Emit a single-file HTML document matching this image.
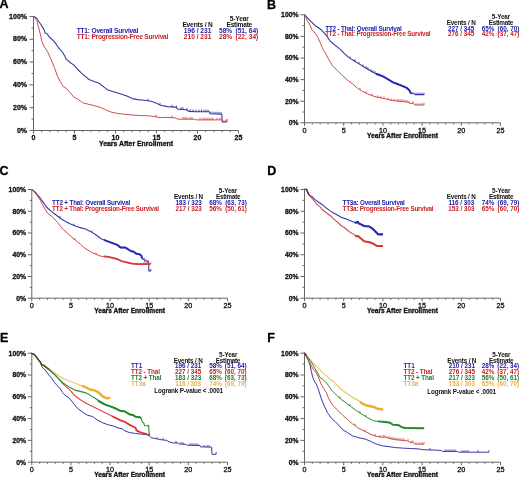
<!DOCTYPE html>
<html><head><meta charset="utf-8"><style>
html,body{margin:0;padding:0;background:#fff;}
svg{display:block;filter:blur(0.3px);font-family:"Liberation Sans",sans-serif;}
</style></head><body>
<svg width="520" height="477" viewBox="0 0 520 477">
<rect width="520" height="477" fill="#fff"/>
<path d="M33.50 16.00V130.50H238.50" stroke="#666" stroke-width="1" fill="none"/>
<path d="M29.50 130.50H33.50M31.50 119.10H33.50M29.50 107.70H33.50M31.50 96.30H33.50M29.50 84.90H33.50M31.50 73.50H33.50M29.50 62.10H33.50M31.50 50.70H33.50M29.50 39.30H33.50M31.50 27.90H33.50M29.50 16.50H33.50M33.50 130.50V133.50M41.70 130.50V132.10M49.90 130.50V132.10M58.10 130.50V132.10M66.30 130.50V132.10M74.50 130.50V133.50M82.70 130.50V132.10M90.90 130.50V132.10M99.10 130.50V132.10M107.30 130.50V132.10M115.50 130.50V133.50M123.70 130.50V132.10M131.90 130.50V132.10M140.10 130.50V132.10M148.30 130.50V132.10M156.50 130.50V133.50M164.70 130.50V132.10M172.90 130.50V132.10M181.10 130.50V132.10M189.30 130.50V132.10M197.50 130.50V133.50M205.70 130.50V132.10M213.90 130.50V132.10M222.10 130.50V132.10M230.30 130.50V132.10M238.50 130.50V133.50" stroke="#666" stroke-width="1" fill="none"/>
<text x="27.00" y="132.60" font-size="7.0" fill="#111" text-anchor="end" font-weight="bold" stroke="#111" stroke-width="0.3">0%</text>
<text x="27.00" y="109.80" font-size="7.0" fill="#111" text-anchor="end" font-weight="bold" stroke="#111" stroke-width="0.3">20%</text>
<text x="27.00" y="87.00" font-size="7.0" fill="#111" text-anchor="end" font-weight="bold" stroke="#111" stroke-width="0.3">40%</text>
<text x="27.00" y="64.20" font-size="7.0" fill="#111" text-anchor="end" font-weight="bold" stroke="#111" stroke-width="0.3">60%</text>
<text x="27.00" y="41.40" font-size="7.0" fill="#111" text-anchor="end" font-weight="bold" stroke="#111" stroke-width="0.3">80%</text>
<text x="27.00" y="18.60" font-size="7.0" fill="#111" text-anchor="end" font-weight="bold" stroke="#111" stroke-width="0.3">100%</text>
<text x="33.50" y="139.70" font-size="7.0" fill="#111" text-anchor="middle" font-weight="bold" stroke="#111" stroke-width="0.3">0</text>
<text x="74.50" y="139.70" font-size="7.0" fill="#111" text-anchor="middle" font-weight="bold" stroke="#111" stroke-width="0.3">5</text>
<text x="115.50" y="139.70" font-size="7.0" fill="#111" text-anchor="middle" font-weight="bold" stroke="#111" stroke-width="0.3">10</text>
<text x="156.50" y="139.70" font-size="7.0" fill="#111" text-anchor="middle" font-weight="bold" stroke="#111" stroke-width="0.3">15</text>
<text x="197.50" y="139.70" font-size="7.0" fill="#111" text-anchor="middle" font-weight="bold" stroke="#111" stroke-width="0.3">20</text>
<text x="238.50" y="139.70" font-size="7.0" fill="#111" text-anchor="middle" font-weight="bold" stroke="#111" stroke-width="0.3">25</text>
<text x="136.00" y="145.60" font-size="6.9" fill="#111" text-anchor="middle" font-weight="bold" stroke="#111" stroke-width="0.3">Years After Enrollment</text>
<text x="-0.40" y="8.10" font-size="12.5" fill="#000" text-anchor="start" font-weight="bold" stroke="#000" stroke-width="0.3">A</text>
<path d="M304.50 14.30V122.80H500.50" stroke="#666" stroke-width="1" fill="none"/>
<path d="M300.50 122.80H304.50M302.50 112.00H304.50M300.50 101.20H304.50M302.50 90.40H304.50M300.50 79.60H304.50M302.50 68.80H304.50M300.50 58.00H304.50M302.50 47.20H304.50M300.50 36.40H304.50M302.50 25.60H304.50M300.50 14.80H304.50M304.50 122.80V125.80M312.34 122.80V124.40M320.18 122.80V124.40M328.02 122.80V124.40M335.86 122.80V124.40M343.70 122.80V125.80M351.54 122.80V124.40M359.38 122.80V124.40M367.22 122.80V124.40M375.06 122.80V124.40M382.90 122.80V125.80M390.74 122.80V124.40M398.58 122.80V124.40M406.42 122.80V124.40M414.26 122.80V124.40M422.10 122.80V125.80M429.94 122.80V124.40M437.78 122.80V124.40M445.62 122.80V124.40M453.46 122.80V124.40M461.30 122.80V125.80M469.14 122.80V124.40M476.98 122.80V124.40M484.82 122.80V124.40M492.66 122.80V124.40M500.50 122.80V125.80" stroke="#666" stroke-width="1" fill="none"/>
<text x="298.50" y="125.10" font-size="6.8" fill="#111" text-anchor="end" font-weight="bold" stroke="#111" stroke-width="0.3">0%</text>
<text x="298.50" y="103.50" font-size="6.8" fill="#111" text-anchor="end" font-weight="bold" stroke="#111" stroke-width="0.3">20%</text>
<text x="298.50" y="81.90" font-size="6.8" fill="#111" text-anchor="end" font-weight="bold" stroke="#111" stroke-width="0.3">40%</text>
<text x="298.50" y="60.30" font-size="6.8" fill="#111" text-anchor="end" font-weight="bold" stroke="#111" stroke-width="0.3">60%</text>
<text x="298.50" y="38.70" font-size="6.8" fill="#111" text-anchor="end" font-weight="bold" stroke="#111" stroke-width="0.3">80%</text>
<text x="298.50" y="17.10" font-size="6.8" fill="#111" text-anchor="end" font-weight="bold" stroke="#111" stroke-width="0.3">100%</text>
<text x="304.50" y="132.80" font-size="7.2" fill="#111" text-anchor="middle" font-weight="normal" stroke="#111" stroke-width="0.3">0</text>
<text x="343.70" y="132.80" font-size="7.2" fill="#111" text-anchor="middle" font-weight="normal" stroke="#111" stroke-width="0.3">5</text>
<text x="382.90" y="132.80" font-size="7.2" fill="#111" text-anchor="middle" font-weight="normal" stroke="#111" stroke-width="0.3">10</text>
<text x="422.10" y="132.80" font-size="7.2" fill="#111" text-anchor="middle" font-weight="normal" stroke="#111" stroke-width="0.3">15</text>
<text x="461.30" y="132.80" font-size="7.2" fill="#111" text-anchor="middle" font-weight="normal" stroke="#111" stroke-width="0.3">20</text>
<text x="500.50" y="132.80" font-size="7.2" fill="#111" text-anchor="middle" font-weight="normal" stroke="#111" stroke-width="0.3">25</text>
<text x="402.50" y="138.00" font-size="6.6" fill="#111" text-anchor="middle" font-weight="bold" stroke="#111" stroke-width="0.3">Years After Enrollment</text>
<text x="266.90" y="8.60" font-size="12.5" fill="#000" text-anchor="start" font-weight="bold" stroke="#000" stroke-width="0.3">B</text>
<path d="M31.80 189.00V298.20H227.50" stroke="#666" stroke-width="1" fill="none"/>
<path d="M27.80 298.20H31.80M29.80 287.33H31.80M27.80 276.46H31.80M29.80 265.59H31.80M27.80 254.72H31.80M29.80 243.85H31.80M27.80 232.98H31.80M29.80 222.11H31.80M27.80 211.24H31.80M29.80 200.37H31.80M27.80 189.50H31.80M31.80 298.20V301.20M39.63 298.20V299.80M47.46 298.20V299.80M55.28 298.20V299.80M63.11 298.20V299.80M70.94 298.20V301.20M78.77 298.20V299.80M86.60 298.20V299.80M94.42 298.20V299.80M102.25 298.20V299.80M110.08 298.20V301.20M117.91 298.20V299.80M125.74 298.20V299.80M133.56 298.20V299.80M141.39 298.20V299.80M149.22 298.20V301.20M157.05 298.20V299.80M164.88 298.20V299.80M172.70 298.20V299.80M180.53 298.20V299.80M188.36 298.20V301.20M196.19 298.20V299.80M204.02 298.20V299.80M211.84 298.20V299.80M219.67 298.20V299.80M227.50 298.20V301.20" stroke="#666" stroke-width="1" fill="none"/>
<text x="26.00" y="300.50" font-size="6.8" fill="#111" text-anchor="end" font-weight="bold" stroke="#111" stroke-width="0.3">0%</text>
<text x="26.00" y="278.76" font-size="6.8" fill="#111" text-anchor="end" font-weight="bold" stroke="#111" stroke-width="0.3">20%</text>
<text x="26.00" y="257.02" font-size="6.8" fill="#111" text-anchor="end" font-weight="bold" stroke="#111" stroke-width="0.3">40%</text>
<text x="26.00" y="235.28" font-size="6.8" fill="#111" text-anchor="end" font-weight="bold" stroke="#111" stroke-width="0.3">60%</text>
<text x="26.00" y="213.54" font-size="6.8" fill="#111" text-anchor="end" font-weight="bold" stroke="#111" stroke-width="0.3">80%</text>
<text x="26.00" y="191.80" font-size="6.8" fill="#111" text-anchor="end" font-weight="bold" stroke="#111" stroke-width="0.3">100%</text>
<text x="31.80" y="308.00" font-size="7.2" fill="#111" text-anchor="middle" font-weight="normal" stroke="#111" stroke-width="0.3">0</text>
<text x="70.94" y="308.00" font-size="7.2" fill="#111" text-anchor="middle" font-weight="normal" stroke="#111" stroke-width="0.3">5</text>
<text x="110.08" y="308.00" font-size="7.2" fill="#111" text-anchor="middle" font-weight="normal" stroke="#111" stroke-width="0.3">10</text>
<text x="149.22" y="308.00" font-size="7.2" fill="#111" text-anchor="middle" font-weight="normal" stroke="#111" stroke-width="0.3">15</text>
<text x="188.36" y="308.00" font-size="7.2" fill="#111" text-anchor="middle" font-weight="normal" stroke="#111" stroke-width="0.3">20</text>
<text x="227.50" y="308.00" font-size="7.2" fill="#111" text-anchor="middle" font-weight="normal" stroke="#111" stroke-width="0.3">25</text>
<text x="129.65" y="312.60" font-size="6.6" fill="#111" text-anchor="middle" font-weight="bold" stroke="#111" stroke-width="0.3">Years After Enrollment</text>
<text x="-0.60" y="175.10" font-size="12.5" fill="#000" text-anchor="start" font-weight="bold" stroke="#000" stroke-width="0.3">C</text>
<path d="M304.50 189.00V298.20H500.50" stroke="#666" stroke-width="1" fill="none"/>
<path d="M300.50 298.20H304.50M302.50 287.33H304.50M300.50 276.46H304.50M302.50 265.59H304.50M300.50 254.72H304.50M302.50 243.85H304.50M300.50 232.98H304.50M302.50 222.11H304.50M300.50 211.24H304.50M302.50 200.37H304.50M300.50 189.50H304.50M304.50 298.20V301.20M312.34 298.20V299.80M320.18 298.20V299.80M328.02 298.20V299.80M335.86 298.20V299.80M343.70 298.20V301.20M351.54 298.20V299.80M359.38 298.20V299.80M367.22 298.20V299.80M375.06 298.20V299.80M382.90 298.20V301.20M390.74 298.20V299.80M398.58 298.20V299.80M406.42 298.20V299.80M414.26 298.20V299.80M422.10 298.20V301.20M429.94 298.20V299.80M437.78 298.20V299.80M445.62 298.20V299.80M453.46 298.20V299.80M461.30 298.20V301.20M469.14 298.20V299.80M476.98 298.20V299.80M484.82 298.20V299.80M492.66 298.20V299.80M500.50 298.20V301.20" stroke="#666" stroke-width="1" fill="none"/>
<text x="298.50" y="300.50" font-size="6.8" fill="#111" text-anchor="end" font-weight="bold" stroke="#111" stroke-width="0.3">0%</text>
<text x="298.50" y="278.76" font-size="6.8" fill="#111" text-anchor="end" font-weight="bold" stroke="#111" stroke-width="0.3">20%</text>
<text x="298.50" y="257.02" font-size="6.8" fill="#111" text-anchor="end" font-weight="bold" stroke="#111" stroke-width="0.3">40%</text>
<text x="298.50" y="235.28" font-size="6.8" fill="#111" text-anchor="end" font-weight="bold" stroke="#111" stroke-width="0.3">60%</text>
<text x="298.50" y="213.54" font-size="6.8" fill="#111" text-anchor="end" font-weight="bold" stroke="#111" stroke-width="0.3">80%</text>
<text x="298.50" y="191.80" font-size="6.8" fill="#111" text-anchor="end" font-weight="bold" stroke="#111" stroke-width="0.3">100%</text>
<text x="304.50" y="308.00" font-size="7.2" fill="#111" text-anchor="middle" font-weight="normal" stroke="#111" stroke-width="0.3">0</text>
<text x="343.70" y="308.00" font-size="7.2" fill="#111" text-anchor="middle" font-weight="normal" stroke="#111" stroke-width="0.3">5</text>
<text x="382.90" y="308.00" font-size="7.2" fill="#111" text-anchor="middle" font-weight="normal" stroke="#111" stroke-width="0.3">10</text>
<text x="422.10" y="308.00" font-size="7.2" fill="#111" text-anchor="middle" font-weight="normal" stroke="#111" stroke-width="0.3">15</text>
<text x="461.30" y="308.00" font-size="7.2" fill="#111" text-anchor="middle" font-weight="normal" stroke="#111" stroke-width="0.3">20</text>
<text x="500.50" y="308.00" font-size="7.2" fill="#111" text-anchor="middle" font-weight="normal" stroke="#111" stroke-width="0.3">25</text>
<text x="402.50" y="312.60" font-size="6.6" fill="#111" text-anchor="middle" font-weight="bold" stroke="#111" stroke-width="0.3">Years After Enrollment</text>
<text x="267.20" y="175.00" font-size="12.5" fill="#000" text-anchor="start" font-weight="bold" stroke="#000" stroke-width="0.3">D</text>
<path d="M31.80 352.70V462.20H227.50" stroke="#666" stroke-width="1" fill="none"/>
<path d="M27.80 462.20H31.80M29.80 451.30H31.80M27.80 440.40H31.80M29.80 429.50H31.80M27.80 418.60H31.80M29.80 407.70H31.80M27.80 396.80H31.80M29.80 385.90H31.80M27.80 375.00H31.80M29.80 364.10H31.80M27.80 353.20H31.80M31.80 462.20V465.20M39.63 462.20V463.80M47.46 462.20V463.80M55.28 462.20V463.80M63.11 462.20V463.80M70.94 462.20V465.20M78.77 462.20V463.80M86.60 462.20V463.80M94.42 462.20V463.80M102.25 462.20V463.80M110.08 462.20V465.20M117.91 462.20V463.80M125.74 462.20V463.80M133.56 462.20V463.80M141.39 462.20V463.80M149.22 462.20V465.20M157.05 462.20V463.80M164.88 462.20V463.80M172.70 462.20V463.80M180.53 462.20V463.80M188.36 462.20V465.20M196.19 462.20V463.80M204.02 462.20V463.80M211.84 462.20V463.80M219.67 462.20V463.80M227.50 462.20V465.20" stroke="#666" stroke-width="1" fill="none"/>
<text x="26.00" y="464.50" font-size="6.8" fill="#111" text-anchor="end" font-weight="bold" stroke="#111" stroke-width="0.3">0%</text>
<text x="26.00" y="442.70" font-size="6.8" fill="#111" text-anchor="end" font-weight="bold" stroke="#111" stroke-width="0.3">20%</text>
<text x="26.00" y="420.90" font-size="6.8" fill="#111" text-anchor="end" font-weight="bold" stroke="#111" stroke-width="0.3">40%</text>
<text x="26.00" y="399.10" font-size="6.8" fill="#111" text-anchor="end" font-weight="bold" stroke="#111" stroke-width="0.3">60%</text>
<text x="26.00" y="377.30" font-size="6.8" fill="#111" text-anchor="end" font-weight="bold" stroke="#111" stroke-width="0.3">80%</text>
<text x="26.00" y="355.50" font-size="6.8" fill="#111" text-anchor="end" font-weight="bold" stroke="#111" stroke-width="0.3">100%</text>
<text x="31.80" y="472.00" font-size="7.2" fill="#111" text-anchor="middle" font-weight="normal" stroke="#111" stroke-width="0.3">0</text>
<text x="70.94" y="472.00" font-size="7.2" fill="#111" text-anchor="middle" font-weight="normal" stroke="#111" stroke-width="0.3">5</text>
<text x="110.08" y="472.00" font-size="7.2" fill="#111" text-anchor="middle" font-weight="normal" stroke="#111" stroke-width="0.3">10</text>
<text x="149.22" y="472.00" font-size="7.2" fill="#111" text-anchor="middle" font-weight="normal" stroke="#111" stroke-width="0.3">15</text>
<text x="188.36" y="472.00" font-size="7.2" fill="#111" text-anchor="middle" font-weight="normal" stroke="#111" stroke-width="0.3">20</text>
<text x="227.50" y="472.00" font-size="7.2" fill="#111" text-anchor="middle" font-weight="normal" stroke="#111" stroke-width="0.3">25</text>
<text x="129.65" y="476.60" font-size="6.6" fill="#111" text-anchor="middle" font-weight="bold" stroke="#111" stroke-width="0.3">Years After Enrollment</text>
<text x="0.00" y="341.80" font-size="12.5" fill="#000" text-anchor="start" font-weight="bold" stroke="#000" stroke-width="0.3">E</text>
<path d="M304.50 352.70V462.20H500.50" stroke="#666" stroke-width="1" fill="none"/>
<path d="M300.50 462.20H304.50M302.50 451.30H304.50M300.50 440.40H304.50M302.50 429.50H304.50M300.50 418.60H304.50M302.50 407.70H304.50M300.50 396.80H304.50M302.50 385.90H304.50M300.50 375.00H304.50M302.50 364.10H304.50M300.50 353.20H304.50M304.50 462.20V465.20M312.34 462.20V463.80M320.18 462.20V463.80M328.02 462.20V463.80M335.86 462.20V463.80M343.70 462.20V465.20M351.54 462.20V463.80M359.38 462.20V463.80M367.22 462.20V463.80M375.06 462.20V463.80M382.90 462.20V465.20M390.74 462.20V463.80M398.58 462.20V463.80M406.42 462.20V463.80M414.26 462.20V463.80M422.10 462.20V465.20M429.94 462.20V463.80M437.78 462.20V463.80M445.62 462.20V463.80M453.46 462.20V463.80M461.30 462.20V465.20M469.14 462.20V463.80M476.98 462.20V463.80M484.82 462.20V463.80M492.66 462.20V463.80M500.50 462.20V465.20" stroke="#666" stroke-width="1" fill="none"/>
<text x="298.50" y="464.50" font-size="6.8" fill="#111" text-anchor="end" font-weight="bold" stroke="#111" stroke-width="0.3">0%</text>
<text x="298.50" y="442.70" font-size="6.8" fill="#111" text-anchor="end" font-weight="bold" stroke="#111" stroke-width="0.3">20%</text>
<text x="298.50" y="420.90" font-size="6.8" fill="#111" text-anchor="end" font-weight="bold" stroke="#111" stroke-width="0.3">40%</text>
<text x="298.50" y="399.10" font-size="6.8" fill="#111" text-anchor="end" font-weight="bold" stroke="#111" stroke-width="0.3">60%</text>
<text x="298.50" y="377.30" font-size="6.8" fill="#111" text-anchor="end" font-weight="bold" stroke="#111" stroke-width="0.3">80%</text>
<text x="298.50" y="355.50" font-size="6.8" fill="#111" text-anchor="end" font-weight="bold" stroke="#111" stroke-width="0.3">100%</text>
<text x="304.50" y="472.00" font-size="7.2" fill="#111" text-anchor="middle" font-weight="normal" stroke="#111" stroke-width="0.3">0</text>
<text x="343.70" y="472.00" font-size="7.2" fill="#111" text-anchor="middle" font-weight="normal" stroke="#111" stroke-width="0.3">5</text>
<text x="382.90" y="472.00" font-size="7.2" fill="#111" text-anchor="middle" font-weight="normal" stroke="#111" stroke-width="0.3">10</text>
<text x="422.10" y="472.00" font-size="7.2" fill="#111" text-anchor="middle" font-weight="normal" stroke="#111" stroke-width="0.3">15</text>
<text x="461.30" y="472.00" font-size="7.2" fill="#111" text-anchor="middle" font-weight="normal" stroke="#111" stroke-width="0.3">20</text>
<text x="500.50" y="472.00" font-size="7.2" fill="#111" text-anchor="middle" font-weight="normal" stroke="#111" stroke-width="0.3">25</text>
<text x="402.50" y="476.60" font-size="6.6" fill="#111" text-anchor="middle" font-weight="bold" stroke="#111" stroke-width="0.3">Years After Enrollment</text>
<text x="267.20" y="341.80" font-size="12.5" fill="#000" text-anchor="start" font-weight="bold" stroke="#000" stroke-width="0.3">F</text>
<path d="M33.8 16.4 L36.7 18.2 L39.1 22.0 L41.4 25.3 L43.8 29.1 L45.2 32.9 L47.1 33.8 L49.0 36.6 L50.9 38.5 L53.7 40.9 L56.5 44.7 L59.4 48.9 L62.2 51.7 L64.5 55.5 L66.4 59.4 L70.2 62.5 L73.9 65.1 L77.7 69.5 L81.5 73.2 L85.3 76.4 L89.0 79.5 L94.1 81.4 L99.1 83.3 L104.0 87.1 L108.1 90.1 L113.5 91.8 L120.2 93.8 L126.9 95.9 L132.3 98.6 L137.7 99.6 L144.4 100.3 L151.1 101.2 L156.5 103.3 L160.6 105.3 L167.3 106.6 L175.8 107.1 L177.8 109.1 L186.5 109.8 L188.6 111.4 L196.0 111.8 L209.4 111.8 L210.1 113.8 L221.8 114.2 L222.2 121.9 L226.2 121.9" stroke="#3838a2" stroke-width="1.1" fill="none" stroke-linejoin="round"/>
<path d="M33.8 16.4 L36.7 20.6 L38.6 27.2 L40.5 34.8 L41.9 41.4 L43.8 46.1 L46.2 49.4 L48.0 52.7 L49.5 56.0 L51.3 60.0 L54.4 67.6 L57.6 76.4 L60.1 81.4 L63.2 86.4 L67.0 89.0 L70.2 92.7 L73.9 97.1 L77.7 99.0 L82.7 102.8 L87.8 104.1 L92.8 105.3 L97.8 106.6 L100.0 107.3 L105.4 109.7 L110.8 112.0 L117.5 113.4 L124.2 114.3 L132.3 115.0 L140.4 115.6 L148.5 115.8 L153.8 116.5 L160.6 117.6 L165.0 117.4 L175.8 117.9 L177.8 119.2 L194.6 119.2 L196.0 119.9 L221.5 119.9 L222.9 121.2 L226.9 121.2" stroke="#d44a4a" stroke-width="1.0" fill="none" stroke-linejoin="round"/>
<path d="M148.0 100.8v-2.2M160.0 105.0v-2.2M172.0 106.9v-2.2M176.5 107.8v-2.2M181.0 109.4v-2.2M183.0 109.5v-2.2M187.0 110.2v-2.2M190.0 111.5v-2.2M193.0 111.6v-2.2M196.0 111.8v-2.2M199.0 111.8v-2.2M201.5 111.8v-2.2M204.0 111.8v-2.2M206.0 111.8v-2.2M208.0 111.8v-2.2M211.0 113.8v-2.2M213.0 113.9v-2.2M215.0 114.0v-2.2M217.0 114.0v-2.2M219.0 114.1v-2.2M221.0 114.2v-2.2" stroke="#2828b4" stroke-width="0.8" fill="none"/>
<path d="M156.0 116.9v-2.2M172.0 117.7v-2.2M183.0 119.2v-2.2M185.0 119.2v-2.2M187.0 119.2v-2.2M190.0 119.2v-2.2M192.0 119.2v-2.2M200.0 119.9v-2.2M203.0 119.9v-2.2M205.0 119.9v-2.2M207.0 119.9v-2.2M209.0 119.9v-2.2M211.0 119.9v-2.2M213.0 119.9v-2.2M217.0 119.9v-2.2M220.0 119.9v-2.2M226.9 121.2v-2.2" stroke="#d83838" stroke-width="0.8" fill="none"/>
<path d="M226.9 119.3v3.4" stroke="#d83838" stroke-width="0.9"/>
<path d="M304.8 14.8 L307.7 18.1 L311.4 21.9 L315.2 25.7 L319.0 28.0 L322.8 31.3 L326.5 35.6 L330.3 41.2 L334.1 44.5 L337.8 47.4 L341.6 50.7 L343.9 53.2 L348.9 57.6 L354.0 60.7 L359.0 63.9 L364.0 67.0 L369.0 69.9 L373.8 72.8 L378.7 74.7 L383.5 76.6 L388.3 79.5 L393.1 82.4 L396.2 83.5 L401.5 85.6 L406.7 87.8 L409.4 90.4 L411.0 93.6 L413.1 93.0 L415.2 94.6 L424.2 94.6" stroke="#3838a2" stroke-width="1.1" fill="none" stroke-linejoin="round"/>
<path d="M304.8 15.2 L307.7 21.4 L310.0 25.2 L311.9 29.5 L315.2 33.2 L318.0 37.5 L320.4 43.1 L322.3 47.8 L325.0 52.5 L328.8 59.5 L332.6 65.8 L337.6 70.8 L342.6 75.8 L347.7 80.2 L352.7 84.0 L357.7 88.4 L362.8 91.5 L367.8 94.1 L372.8 95.9 L375.0 96.7 L380.3 97.8 L385.6 98.9 L390.9 100.4 L396.2 101.0 L402.5 101.5 L406.7 102.0 L411.0 103.6 L413.1 103.1 L414.7 105.0 L424.2 105.0" stroke="#d44a4a" stroke-width="1.0" fill="none" stroke-linejoin="round"/>
<path d="M376.0 73.7 L378.7 74.7 L383.5 76.6 L388.3 79.5 L393.1 82.4 L396.2 83.5 L401.5 85.6 L406.7 87.8 L409.4 90.4 L411.0 93.6 L411.0 93.6" stroke="#2828b4" stroke-width="2.0" fill="none" stroke-linejoin="round"/>
<path d="M350.0 58.3v-2.0M355.0 61.3v-2.0M359.0 63.9v-2.0M363.0 66.4v-2.0M366.0 68.2v-2.0M368.0 69.3v-2.0M371.0 71.1v-2.0M373.0 72.3v-2.0M375.0 73.3v-2.0M416.0 94.6v-2.0M418.0 94.6v-2.0M420.0 94.6v-2.0M422.0 94.6v-2.0M424.0 94.6v-2.0" stroke="#2828b4" stroke-width="0.8" fill="none"/>
<path d="M360.0 89.8v-2.0M366.0 93.2v-2.0M372.0 95.6v-2.0M378.0 97.3v-2.0M381.0 97.9v-2.0M384.0 98.6v-2.0M388.0 99.6v-2.0M391.0 100.4v-2.0M394.0 100.8v-2.0M397.0 101.1v-2.0M399.0 101.2v-2.0M401.0 101.4v-2.0M403.0 101.6v-2.0M405.0 101.8v-2.0M407.0 102.1v-2.0M409.0 102.9v-2.0M413.0 103.1v-2.0M416.0 105.0v-2.0M419.0 105.0v-2.0M422.0 105.0v-2.0M424.0 105.0v-2.0" stroke="#d83838" stroke-width="0.8" fill="none"/>
<path d="M31.9 189.4 L35.0 191.9 L38.8 196.3 L42.6 201.4 L46.4 207.0 L51.4 211.4 L56.4 215.2 L61.4 219.0 L66.5 222.1 L71.5 224.6 L76.5 226.5 L82.8 228.4 L85.0 228.7 L90.4 231.4 L95.8 234.8 L101.2 238.8 L106.5 240.9 L111.9 242.9 L117.3 244.9 L120.7 247.6 L125.4 247.6 L130.8 251.0 L133.7 251.8 L135.9 253.6 L139.6 254.3 L141.4 255.8 L142.1 258.8 L144.0 259.5 L144.7 261.0 L147.6 261.3 L148.8 262.8 L148.8 270.9 L151.0 270.9" stroke="#3838a2" stroke-width="1.1" fill="none" stroke-linejoin="round"/>
<path d="M31.9 189.4 L36.3 194.4 L40.1 200.1 L43.8 207.0 L47.6 213.3 L52.6 217.1 L57.7 222.7 L62.7 229.0 L67.7 233.4 L74.0 239.1 L80.3 244.1 L85.0 248.3 L90.4 251.6 L95.8 254.3 L101.2 256.3 L106.5 256.6 L111.9 257.7 L117.3 259.0 L121.3 261.0 L126.7 262.4 L132.1 263.7 L138.8 264.1 L150.9 264.1" stroke="#d44a4a" stroke-width="1.0" fill="none" stroke-linejoin="round"/>
<path d="M104.0 239.9 L106.5 240.9 L111.9 242.9 L117.3 244.9 L120.7 247.6 L125.4 247.6 L130.8 251.0 L133.7 251.8 L135.9 253.6 L139.6 254.3 L141.4 255.8 L142.0 258.4" stroke="#2828b4" stroke-width="2.0" fill="none" stroke-linejoin="round"/>
<path d="M104.0 256.5 L106.5 256.6 L111.9 257.7 L117.3 259.0 L121.3 261.0 L126.7 262.4 L132.1 263.7 L138.8 264.1 L150.0 264.1" stroke="#d83838" stroke-width="1.8" fill="none" stroke-linejoin="round"/>
<path d="M60.0 217.9v-2.0M74.0 225.6v-2.0M92.0 232.4v-2.0M144.0 259.5v-2.0M146.0 261.1v-2.0M148.3 262.2v-2.0M150.9 270.9v-2.0" stroke="#2828b4" stroke-width="0.8" fill="none"/>
<path d="M75.0 239.9v-2.0M96.0 254.4v-2.0M144.0 264.1v-2.0M146.0 264.1v-2.0M148.0 264.1v-2.0M150.9 264.1v-2.0" stroke="#d83838" stroke-width="0.8" fill="none"/>
<path d="M304.5 189.2 L306.6 189.5 L308.5 194.0 L309.4 195.2 L312.3 196.8 L315.1 199.6 L318.9 202.5 L322.6 204.8 L326.4 208.1 L330.2 210.9 L334.0 213.3 L337.7 215.2 L341.5 217.5 L345.2 218.6 L350.5 220.7 L355.7 222.8 L357.8 221.8 L358.5 223.2 L361.0 224.4 L364.1 226.0 L369.4 226.5 L372.5 228.6 L375.6 231.7 L378.3 234.4 L383.0 234.4" stroke="#3838a2" stroke-width="1.1" fill="none" stroke-linejoin="round"/>
<path d="M304.5 189.2 L306.6 189.5 L308.5 194.0 L309.4 195.2 L311.3 197.7 L314.2 201.0 L317.0 204.3 L319.8 206.7 L322.6 210.0 L326.4 212.8 L330.2 215.7 L334.0 219.4 L337.7 222.3 L341.5 226.0 L344.2 227.5 L349.4 231.7 L353.6 234.4 L356.8 236.4 L358.3 235.9 L359.0 237.2 L361.0 238.5 L364.1 241.2 L369.4 242.2 L373.5 243.8 L376.7 245.9 L383.0 245.9" stroke="#d44a4a" stroke-width="1.1" fill="none" stroke-linejoin="round"/>
<path d="M355.0 222.5 L355.7 222.8 L357.8 221.8 L358.5 223.2 L361.0 224.4 L364.1 226.0 L369.4 226.5 L372.5 228.6 L375.6 231.7 L378.3 234.4 L383.0 234.4" stroke="#2828b4" stroke-width="2.1" fill="none" stroke-linejoin="round"/>
<path d="M304.5 189.2 L306.6 189.5 L308.5 194.0 L309.6 195.3" stroke="#5a2a62" stroke-width="1.3" fill="none" stroke-linejoin="round"/>
<path d="M355.0 235.3 L356.8 236.4 L358.3 235.9 L359.0 237.2 L361.0 238.5 L364.1 241.2 L369.4 242.2 L373.5 243.8 L376.7 245.9 L383.0 245.9" stroke="#d83838" stroke-width="2.0" fill="none" stroke-linejoin="round"/>
<path d="M31.4 353.3 L33.8 354.2 L36.1 356.6 L38.5 359.9 L40.4 362.3 L41.3 364.2 L44.2 365.1 L48.9 368.4 L53.6 372.2 L58.3 375.5 L63.0 378.3 L67.7 380.2 L70.0 381.3 L75.0 383.2 L80.1 385.1 L85.1 387.0 L90.1 389.5 L95.2 390.7 L98.9 392.6 L102.7 396.4 L106.5 398.3 L110.3 397.9" stroke="#eec46c" stroke-width="1.2" fill="none" stroke-linejoin="round"/>
<path d="M31.4 353.3 L33.8 354.2 L36.1 356.6 L38.5 359.9 L40.4 362.3 L41.3 364.2 L41.8 366.5 L43.2 368.4 L45.1 369.8 L47.0 372.6 L48.9 375.0 L51.7 378.3 L54.5 382.5 L57.4 385.8 L60.2 388.7 L62.5 392.5 L64.0 394.3 L67.0 396.5 L70.0 398.9 L73.8 403.9 L77.5 408.3 L82.6 412.1 L87.6 415.3 L92.6 416.5 L97.7 420.3 L102.7 422.8 L107.7 424.7 L112.8 425.9 L117.8 427.8 L122.8 429.1 L125.0 430.9 L129.2 432.5 L135.5 433.5 L140.7 434.1 L146.0 434.6 L149.1 435.6 L151.2 437.7 L156.4 438.8 L161.7 439.8 L166.9 440.4 L169.0 441.9 L173.2 443.0 L178.1 442.9 L179.2 444.0 L186.1 444.4 L186.7 445.2 L200.0 445.5 L200.6 446.9 L211.5 447.1 L212.1 454.4 L216.1 454.4" stroke="#3838a2" stroke-width="1.0" fill="none" stroke-linejoin="round"/>
<path d="M31.4 353.3 L33.8 354.2 L36.1 356.6 L38.5 359.9 L40.4 362.3 L41.3 364.2 L44.2 366.0 L48.9 369.8 L53.6 373.6 L58.3 378.3 L62.1 383.0 L65.8 386.3 L69.6 389.6 L70.0 390.1 L75.0 395.8 L80.1 399.5 L85.1 402.7 L90.1 405.2 L95.2 407.7 L100.2 410.2 L105.2 412.7 L110.3 415.3 L115.3 417.8 L120.3 420.3 L125.0 422.0 L129.2 424.6 L133.4 426.7 L135.5 427.8 L136.5 430.4 L139.7 432.0 L142.8 433.0 L147.0 434.1 L150.2 434.6" stroke="#d44a4a" stroke-width="1.1" fill="none" stroke-linejoin="round"/>
<path d="M31.4 353.3 L33.8 354.2 L36.1 356.6 L38.5 359.9 L40.4 362.3 L41.3 364.2 L44.2 365.6 L48.9 369.3 L53.6 373.6 L58.3 378.3 L62.1 382.1 L65.8 384.9 L70.0 387.6 L75.0 390.1 L80.1 391.4 L85.1 392.6 L90.1 395.1 L95.2 398.3 L100.2 402.0 L105.2 404.6 L110.3 406.4 L115.3 408.3 L120.3 410.8 L125.0 411.5 L129.2 414.2 L133.4 415.2 L135.5 416.8 L139.7 417.3 L141.2 418.3 L142.3 422.0 L143.9 423.1 L144.4 425.7 L147.5 425.7 L148.6 425.2 L149.1 432.5 L149.6 435.6" stroke="#2f8a34" stroke-width="1.1" fill="none" stroke-linejoin="round"/>
<path d="M82.0 385.8 L85.1 387.0 L90.1 389.5 L95.2 390.7 L98.9 392.6 L102.7 396.4 L106.5 398.3 L110.3 397.9 L110.3 397.9" stroke="#f0ac2c" stroke-width="2.4" fill="none" stroke-linejoin="round"/>
<path d="M31.4 353.3 L33.8 354.2 L36.1 356.6 L38.5 359.9 L40.4 362.3 L41.3 364.2 L42.5 365.2" stroke="#4e4630" stroke-width="1.4" fill="none" stroke-linejoin="round"/>
<path d="M42.5 365.2 L44.2 365.8 L46.5 367.6 L48.9 369.5" stroke="#3c5a2c" stroke-width="1.2" fill="none" stroke-linejoin="round"/>
<path d="M98.0 400.4 L100.2 402.0 L105.2 404.6 L110.3 406.4 L115.3 408.3 L120.3 410.8 L125.0 411.5 L129.2 414.2 L133.4 415.2 L135.5 416.8 L139.7 417.3 L141.0 418.2" stroke="#1e8a2a" stroke-width="2.0" fill="none" stroke-linejoin="round"/>
<path d="M112.0 416.2 L115.3 417.8 L120.3 420.3 L125.0 422.0 L129.2 424.6 L133.4 426.7 L135.5 427.8 L136.5 430.4 L139.7 432.0 L142.8 433.0 L147.0 434.1 L147.0 434.1" stroke="#d83838" stroke-width="1.8" fill="none" stroke-linejoin="round"/>
<path d="M157.0 438.9v-2.0M163.0 439.9v-2.0M176.0 442.9v-2.0M181.0 444.1v-2.0M183.0 444.2v-2.0M190.0 445.3v-2.0M192.0 445.3v-2.0M194.0 445.4v-2.0M196.0 445.4v-2.0M198.0 445.5v-2.0M204.0 447.0v-2.0M207.0 447.0v-2.0M209.0 447.1v-2.0" stroke="#2828b4" stroke-width="0.8" fill="none"/>
<path d="M216.1 451.8v2.6" stroke="#2828b4" stroke-width="0.9"/>
<path d="M304.4 352.8 L307.7 356.6 L311.4 360.8 L315.2 365.1 L319.0 368.9 L322.8 372.6 L326.5 375.9 L330.3 379.2 L334.1 382.1 L337.8 385.8 L340.2 388.8 L346.4 393.2 L352.7 397.6 L357.8 400.1 L362.8 403.9 L367.8 405.8 L373.8 407.0 L377.5 408.8 L383.2 409.5" stroke="#eec46c" stroke-width="1.2" fill="none" stroke-linejoin="round"/>
<path d="M304.4 352.8 L306.7 357.5 L308.6 361.3 L310.0 365.1 L311.4 371.7 L312.8 377.4 L314.3 381.1 L316.2 384.0 L317.6 387.3 L319.0 391.3 L321.3 398.8 L324.4 406.4 L327.6 412.7 L331.4 418.3 L335.1 421.5 L338.9 425.3 L342.7 429.7 L347.7 432.8 L352.7 435.9 L359.0 437.8 L365.3 439.1 L370.3 441.2 L376.3 444.1 L382.6 445.9 L388.9 446.6 L395.2 447.6 L402.7 448.1 L410.3 448.5 L417.8 448.8 L422.8 449.7 L430.0 450.0 L435.8 450.1 L441.2 450.5 L442.5 451.4 L457.3 451.4 L458.6 452.2 L488.9 452.2" stroke="#3838a2" stroke-width="1.0" fill="none" stroke-linejoin="round"/>
<path d="M304.4 352.8 L307.2 357.5 L309.5 361.8 L311.4 366.0 L313.3 369.3 L316.2 372.6 L318.0 376.4 L319.9 381.1 L321.8 385.4 L324.2 389.2 L326.5 392.9 L328.8 398.8 L332.6 405.1 L337.6 410.2 L342.7 415.2 L347.7 419.6 L352.7 424.0 L357.8 427.8 L362.8 430.3 L367.8 432.8 L370.0 434.0 L375.0 435.9 L380.1 437.1 L385.1 437.1 L388.9 438.4 L395.2 439.7 L401.4 440.3 L407.7 440.9 L410.3 442.8 L412.8 442.2 L414.7 444.1 L424.1 444.1" stroke="#d44a4a" stroke-width="1.0" fill="none" stroke-linejoin="round"/>
<path d="M304.4 352.8 L307.7 357.1 L311.4 362.3 L315.2 368.9 L318.0 373.6 L319.9 377.4 L322.8 379.2 L326.5 383.0 L329.4 386.8 L331.4 390.0 L336.4 395.1 L341.4 399.5 L346.4 403.2 L351.5 407.0 L356.5 410.8 L361.5 413.9 L366.6 417.1 L370.0 418.9 L373.8 420.8 L378.8 421.4 L385.1 422.0 L390.1 422.7 L392.6 424.6 L398.9 425.2 L401.4 427.1 L405.2 428.0 L424.1 428.3" stroke="#2f8a34" stroke-width="1.0" fill="none" stroke-linejoin="round"/>
<path d="M360.0 401.8 L362.8 403.9 L367.8 405.8 L373.8 407.0 L377.5 408.8 L383.2 409.5 L383.2 409.5" stroke="#f0ac2c" stroke-width="2.4" fill="none" stroke-linejoin="round"/>
<path d="M304.4 352.8 L306.5 355.6" stroke="#4e3a3a" stroke-width="1.4" fill="none" stroke-linejoin="round"/>
<path d="M378.0 421.3 L378.8 421.4 L385.1 422.0 L390.1 422.7 L392.6 424.6 L398.9 425.2 L401.4 427.1 L405.2 428.0 L424.1 428.3 L424.1 428.3" stroke="#1e8a2a" stroke-width="1.9" fill="none" stroke-linejoin="round"/>
<path d="M355.0 425.7v-2.0M365.0 431.4v-2.0M375.0 435.9v-2.0M380.0 437.1v-2.0M383.0 437.1v-2.0M385.0 437.1v-2.0M388.0 438.1v-2.0M390.0 438.6v-2.0M392.0 439.0v-2.0M394.0 439.5v-2.0M396.0 439.8v-2.0M398.0 440.0v-2.0M400.0 440.2v-2.0M402.0 440.4v-2.0M404.0 440.5v-2.0M408.0 441.1v-2.0M411.0 442.6v-2.0M413.0 442.4v-2.0M416.0 444.1v-2.0M419.0 444.1v-2.0M422.0 444.1v-2.0M424.0 444.1v-2.0" stroke="#d83838" stroke-width="0.8" fill="none"/>
<path d="M340.0 398.3v-2.0M350.0 405.9v-2.0M360.0 413.0v-2.0M366.0 416.7v-2.0" stroke="#1e8a2a" stroke-width="0.8" fill="none"/>
<path d="M430.0 450.0v-2.0M445.0 451.4v-2.0M447.0 451.4v-2.0M449.0 451.4v-2.0M451.0 451.4v-2.0M453.0 451.4v-2.0M455.0 451.4v-2.0M462.0 452.2v-2.0M464.0 452.2v-2.0M466.0 452.2v-2.0M468.0 452.2v-2.0M478.0 452.2v-2.0M488.9 452.2v-2.0" stroke="#2828b4" stroke-width="0.8" fill="none"/>
<text x="76.70" y="32.70" font-size="6.6" fill="#2020b0" text-anchor="start" font-weight="bold" textLength="61.62" lengthAdjust="spacing">TT1: Overall Survival</text>
<text x="197.60" y="32.70" font-size="6.6" fill="#2020b0" text-anchor="middle" font-weight="bold" textLength="27.53" lengthAdjust="spacing">196 / 231</text>
<text x="219.00" y="32.70" font-size="6.6" fill="#2020b0" text-anchor="start" font-weight="bold" textLength="13.21" lengthAdjust="spacing">58%</text>
<text x="235.50" y="32.70" font-size="6.6" fill="#2020b0" text-anchor="start" font-weight="bold" textLength="22.75" lengthAdjust="spacing">(51, 64)</text>
<text x="76.70" y="38.60" font-size="6.6" fill="#cc1e1e" text-anchor="start" font-weight="bold" textLength="91.70" lengthAdjust="spacing">TT1: Progression-Free Survival</text>
<text x="197.60" y="38.60" font-size="6.6" fill="#cc1e1e" text-anchor="middle" font-weight="bold" textLength="27.53" lengthAdjust="spacing">210 / 231</text>
<text x="219.00" y="38.60" font-size="6.6" fill="#cc1e1e" text-anchor="start" font-weight="bold" textLength="13.21" lengthAdjust="spacing">28%</text>
<text x="235.50" y="38.60" font-size="6.6" fill="#cc1e1e" text-anchor="start" font-weight="bold" textLength="22.75" lengthAdjust="spacing">(22, 34)</text>
<text x="197.60" y="27.20" font-size="6.6" fill="#111" text-anchor="middle" font-weight="bold" textLength="30.44" lengthAdjust="spacing">Events / N</text>
<text x="239.30" y="20.60" font-size="6.6" fill="#111" text-anchor="middle" font-weight="bold" textLength="19.20" lengthAdjust="spacing">5-Year</text>
<text x="239.40" y="27.10" font-size="6.6" fill="#111" text-anchor="middle" font-weight="bold" textLength="25.68" lengthAdjust="spacing">Estimate</text>
<text x="325.20" y="30.50" font-size="6.3" fill="#2020b0" text-anchor="start" font-weight="bold" textLength="76.56" lengthAdjust="spacing">TT2 - Thal: Overall Survival</text>
<text x="461.20" y="30.50" font-size="6.3" fill="#2020b0" text-anchor="middle" font-weight="bold" textLength="26.27" lengthAdjust="spacing">227 / 345</text>
<text x="481.70" y="30.50" font-size="6.3" fill="#2020b0" text-anchor="start" font-weight="bold" textLength="12.61" lengthAdjust="spacing">65%</text>
<text x="497.60" y="30.50" font-size="6.3" fill="#2020b0" text-anchor="start" font-weight="bold" textLength="21.71" lengthAdjust="spacing">(60, 70)</text>
<text x="325.20" y="36.30" font-size="6.3" fill="#cc1e1e" text-anchor="start" font-weight="bold" textLength="105.27" lengthAdjust="spacing">TT2 - Thal: Progression-Free Survival</text>
<text x="461.20" y="36.30" font-size="6.3" fill="#cc1e1e" text-anchor="middle" font-weight="bold" textLength="26.27" lengthAdjust="spacing">276 / 345</text>
<text x="481.70" y="36.30" font-size="6.3" fill="#cc1e1e" text-anchor="start" font-weight="bold" textLength="12.61" lengthAdjust="spacing">42%</text>
<text x="497.60" y="36.30" font-size="6.3" fill="#cc1e1e" text-anchor="start" font-weight="bold" textLength="21.71" lengthAdjust="spacing">(37, 47)</text>
<text x="461.20" y="24.60" font-size="6.3" fill="#111" text-anchor="middle" font-weight="bold" textLength="29.06" lengthAdjust="spacing">Events / N</text>
<text x="501.00" y="18.70" font-size="6.3" fill="#111" text-anchor="middle" font-weight="bold" textLength="18.33" lengthAdjust="spacing">5-Year</text>
<text x="501.00" y="24.50" font-size="6.3" fill="#111" text-anchor="middle" font-weight="bold" textLength="24.51" lengthAdjust="spacing">Estimate</text>
<text x="52.10" y="205.00" font-size="6.3" fill="#2020b0" text-anchor="start" font-weight="bold" textLength="78.14" lengthAdjust="spacing">TT2 + Thal: Overall Survival</text>
<text x="188.60" y="205.00" font-size="6.3" fill="#2020b0" text-anchor="middle" font-weight="bold" textLength="26.27" lengthAdjust="spacing">183 / 323</text>
<text x="209.30" y="205.00" font-size="6.3" fill="#2020b0" text-anchor="start" font-weight="bold" textLength="12.61" lengthAdjust="spacing">68%</text>
<text x="225.20" y="205.00" font-size="6.3" fill="#2020b0" text-anchor="start" font-weight="bold" textLength="21.71" lengthAdjust="spacing">(63, 73)</text>
<text x="52.10" y="210.80" font-size="6.3" fill="#cc1e1e" text-anchor="start" font-weight="bold" textLength="106.85" lengthAdjust="spacing">TT2 + Thal: Progression-Free Survival</text>
<text x="188.60" y="210.80" font-size="6.3" fill="#cc1e1e" text-anchor="middle" font-weight="bold" textLength="26.27" lengthAdjust="spacing">217 / 323</text>
<text x="209.30" y="210.80" font-size="6.3" fill="#cc1e1e" text-anchor="start" font-weight="bold" textLength="12.61" lengthAdjust="spacing">56%</text>
<text x="225.20" y="210.80" font-size="6.3" fill="#cc1e1e" text-anchor="start" font-weight="bold" textLength="21.71" lengthAdjust="spacing">(50, 61)</text>
<text x="188.60" y="199.10" font-size="6.3" fill="#111" text-anchor="middle" font-weight="bold" textLength="29.06" lengthAdjust="spacing">Events / N</text>
<text x="228.00" y="193.20" font-size="6.3" fill="#111" text-anchor="middle" font-weight="bold" textLength="18.33" lengthAdjust="spacing">5-Year</text>
<text x="228.30" y="199.30" font-size="6.3" fill="#111" text-anchor="middle" font-weight="bold" textLength="24.51" lengthAdjust="spacing">Estimate</text>
<text x="342.50" y="205.00" font-size="6.3" fill="#2020b0" text-anchor="start" font-weight="bold" textLength="62.32" lengthAdjust="spacing">TT3a: Overall Survival</text>
<text x="461.30" y="205.00" font-size="6.3" fill="#2020b0" text-anchor="middle" font-weight="bold" textLength="25.81" lengthAdjust="spacing">116 / 303</text>
<text x="481.70" y="205.00" font-size="6.3" fill="#2020b0" text-anchor="start" font-weight="bold" textLength="12.61" lengthAdjust="spacing">74%</text>
<text x="497.60" y="205.00" font-size="6.3" fill="#2020b0" text-anchor="start" font-weight="bold" textLength="21.71" lengthAdjust="spacing">(69, 79)</text>
<text x="342.50" y="210.80" font-size="6.3" fill="#cc1e1e" text-anchor="start" font-weight="bold" textLength="91.03" lengthAdjust="spacing">TT3a: Progression-Free Survival</text>
<text x="461.30" y="210.80" font-size="6.3" fill="#cc1e1e" text-anchor="middle" font-weight="bold" textLength="26.27" lengthAdjust="spacing">153 / 303</text>
<text x="481.70" y="210.80" font-size="6.3" fill="#cc1e1e" text-anchor="start" font-weight="bold" textLength="12.61" lengthAdjust="spacing">65%</text>
<text x="497.60" y="210.80" font-size="6.3" fill="#cc1e1e" text-anchor="start" font-weight="bold" textLength="21.71" lengthAdjust="spacing">(60, 70)</text>
<text x="461.30" y="199.10" font-size="6.3" fill="#111" text-anchor="middle" font-weight="bold" textLength="29.06" lengthAdjust="spacing">Events / N</text>
<text x="501.20" y="193.20" font-size="6.3" fill="#111" text-anchor="middle" font-weight="bold" textLength="18.33" lengthAdjust="spacing">5-Year</text>
<text x="501.20" y="199.30" font-size="6.3" fill="#111" text-anchor="middle" font-weight="bold" textLength="24.51" lengthAdjust="spacing">Estimate</text>
<text x="131.00" y="368.10" font-size="6.3" fill="#2020b0" text-anchor="start" font-weight="bold" textLength="11.20" lengthAdjust="spacing">TT1</text>
<text x="188.20" y="368.10" font-size="6.3" fill="#2020b0" text-anchor="middle" font-weight="bold" textLength="26.27" lengthAdjust="spacing">196 / 231</text>
<text x="209.30" y="368.10" font-size="6.3" fill="#2020b0" text-anchor="start" font-weight="bold" textLength="12.61" lengthAdjust="spacing">58%</text>
<text x="224.80" y="368.10" font-size="6.3" fill="#2020b0" text-anchor="start" font-weight="bold" textLength="21.71" lengthAdjust="spacing">(51, 64)</text>
<text x="131.00" y="374.20" font-size="6.3" fill="#cc1e1e" text-anchor="start" font-weight="bold" textLength="28.94" lengthAdjust="spacing">TT2 - Thal</text>
<text x="188.20" y="374.20" font-size="6.3" fill="#cc1e1e" text-anchor="middle" font-weight="bold" textLength="26.27" lengthAdjust="spacing">227 / 345</text>
<text x="209.30" y="374.20" font-size="6.3" fill="#cc1e1e" text-anchor="start" font-weight="bold" textLength="12.61" lengthAdjust="spacing">65%</text>
<text x="224.80" y="374.20" font-size="6.3" fill="#cc1e1e" text-anchor="start" font-weight="bold" textLength="21.71" lengthAdjust="spacing">(60, 70)</text>
<text x="131.00" y="380.30" font-size="6.3" fill="#1a7d24" text-anchor="start" font-weight="bold" textLength="30.52" lengthAdjust="spacing">TT2 + Thal</text>
<text x="188.20" y="380.30" font-size="6.3" fill="#1a7d24" text-anchor="middle" font-weight="bold" textLength="26.27" lengthAdjust="spacing">183 / 323</text>
<text x="209.30" y="380.30" font-size="6.3" fill="#1a7d24" text-anchor="start" font-weight="bold" textLength="12.61" lengthAdjust="spacing">68%</text>
<text x="224.80" y="380.30" font-size="6.3" fill="#1a7d24" text-anchor="start" font-weight="bold" textLength="21.71" lengthAdjust="spacing">(63, 73)</text>
<text x="131.00" y="386.40" font-size="6.3" fill="#f0b040" text-anchor="start" font-weight="bold" textLength="14.70" lengthAdjust="spacing">TT3a</text>
<text x="188.20" y="386.40" font-size="6.3" fill="#f0b040" text-anchor="middle" font-weight="bold" textLength="25.81" lengthAdjust="spacing">116 / 303</text>
<text x="209.30" y="386.40" font-size="6.3" fill="#f0b040" text-anchor="start" font-weight="bold" textLength="12.61" lengthAdjust="spacing">74%</text>
<text x="224.80" y="386.40" font-size="6.3" fill="#f0b040" text-anchor="start" font-weight="bold" textLength="21.71" lengthAdjust="spacing">(69, 79)</text>
<text x="188.20" y="362.50" font-size="6.3" fill="#111" text-anchor="middle" font-weight="bold" textLength="29.06" lengthAdjust="spacing">Events / N</text>
<text x="228.20" y="357.00" font-size="6.3" fill="#111" text-anchor="middle" font-weight="bold" textLength="18.33" lengthAdjust="spacing">5-Year</text>
<text x="228.10" y="362.50" font-size="6.3" fill="#111" text-anchor="middle" font-weight="bold" textLength="24.51" lengthAdjust="spacing">Estimate</text>
<text x="154.30" y="393.10" font-size="6.3" fill="#111" text-anchor="start" font-weight="bold" textLength="68.83" lengthAdjust="spacing">Logrank P-value &lt; .0001</text>
<text x="403.50" y="368.10" font-size="6.3" fill="#2020b0" text-anchor="start" font-weight="bold" textLength="11.20" lengthAdjust="spacing">TT1</text>
<text x="461.90" y="368.10" font-size="6.3" fill="#2020b0" text-anchor="middle" font-weight="bold" textLength="26.27" lengthAdjust="spacing">210 / 231</text>
<text x="481.80" y="368.10" font-size="6.3" fill="#2020b0" text-anchor="start" font-weight="bold" textLength="12.61" lengthAdjust="spacing">28%</text>
<text x="497.30" y="368.10" font-size="6.3" fill="#2020b0" text-anchor="start" font-weight="bold" textLength="21.71" lengthAdjust="spacing">(22, 34)</text>
<text x="403.50" y="374.20" font-size="6.3" fill="#cc1e1e" text-anchor="start" font-weight="bold" textLength="28.94" lengthAdjust="spacing">TT2 - Thal</text>
<text x="461.90" y="374.20" font-size="6.3" fill="#cc1e1e" text-anchor="middle" font-weight="bold" textLength="26.27" lengthAdjust="spacing">276 / 345</text>
<text x="481.80" y="374.20" font-size="6.3" fill="#cc1e1e" text-anchor="start" font-weight="bold" textLength="12.61" lengthAdjust="spacing">42%</text>
<text x="497.30" y="374.20" font-size="6.3" fill="#cc1e1e" text-anchor="start" font-weight="bold" textLength="21.71" lengthAdjust="spacing">(37, 47)</text>
<text x="403.50" y="380.30" font-size="6.3" fill="#1a7d24" text-anchor="start" font-weight="bold" textLength="30.52" lengthAdjust="spacing">TT2 + Thal</text>
<text x="461.90" y="380.30" font-size="6.3" fill="#1a7d24" text-anchor="middle" font-weight="bold" textLength="26.27" lengthAdjust="spacing">217 / 323</text>
<text x="481.80" y="380.30" font-size="6.3" fill="#1a7d24" text-anchor="start" font-weight="bold" textLength="12.61" lengthAdjust="spacing">56%</text>
<text x="497.30" y="380.30" font-size="6.3" fill="#1a7d24" text-anchor="start" font-weight="bold" textLength="21.71" lengthAdjust="spacing">(50, 61)</text>
<text x="403.50" y="386.40" font-size="6.3" fill="#f0b040" text-anchor="start" font-weight="bold" textLength="14.70" lengthAdjust="spacing">TT3a</text>
<text x="461.90" y="386.40" font-size="6.3" fill="#f0b040" text-anchor="middle" font-weight="bold" textLength="26.27" lengthAdjust="spacing">153 / 303</text>
<text x="481.80" y="386.40" font-size="6.3" fill="#f0b040" text-anchor="start" font-weight="bold" textLength="12.61" lengthAdjust="spacing">65%</text>
<text x="497.30" y="386.40" font-size="6.3" fill="#f0b040" text-anchor="start" font-weight="bold" textLength="21.71" lengthAdjust="spacing">(60, 70)</text>
<text x="461.90" y="362.80" font-size="6.3" fill="#111" text-anchor="middle" font-weight="bold" textLength="29.06" lengthAdjust="spacing">Events / N</text>
<text x="501.30" y="357.40" font-size="6.3" fill="#111" text-anchor="middle" font-weight="bold" textLength="18.33" lengthAdjust="spacing">5-Year</text>
<text x="501.30" y="362.80" font-size="6.3" fill="#111" text-anchor="middle" font-weight="bold" textLength="24.51" lengthAdjust="spacing">Estimate</text>
<text x="427.30" y="393.50" font-size="6.3" fill="#111" text-anchor="start" font-weight="bold" textLength="68.83" lengthAdjust="spacing">Logrank P-value &lt; .0001</text>
</svg>
</body></html>
